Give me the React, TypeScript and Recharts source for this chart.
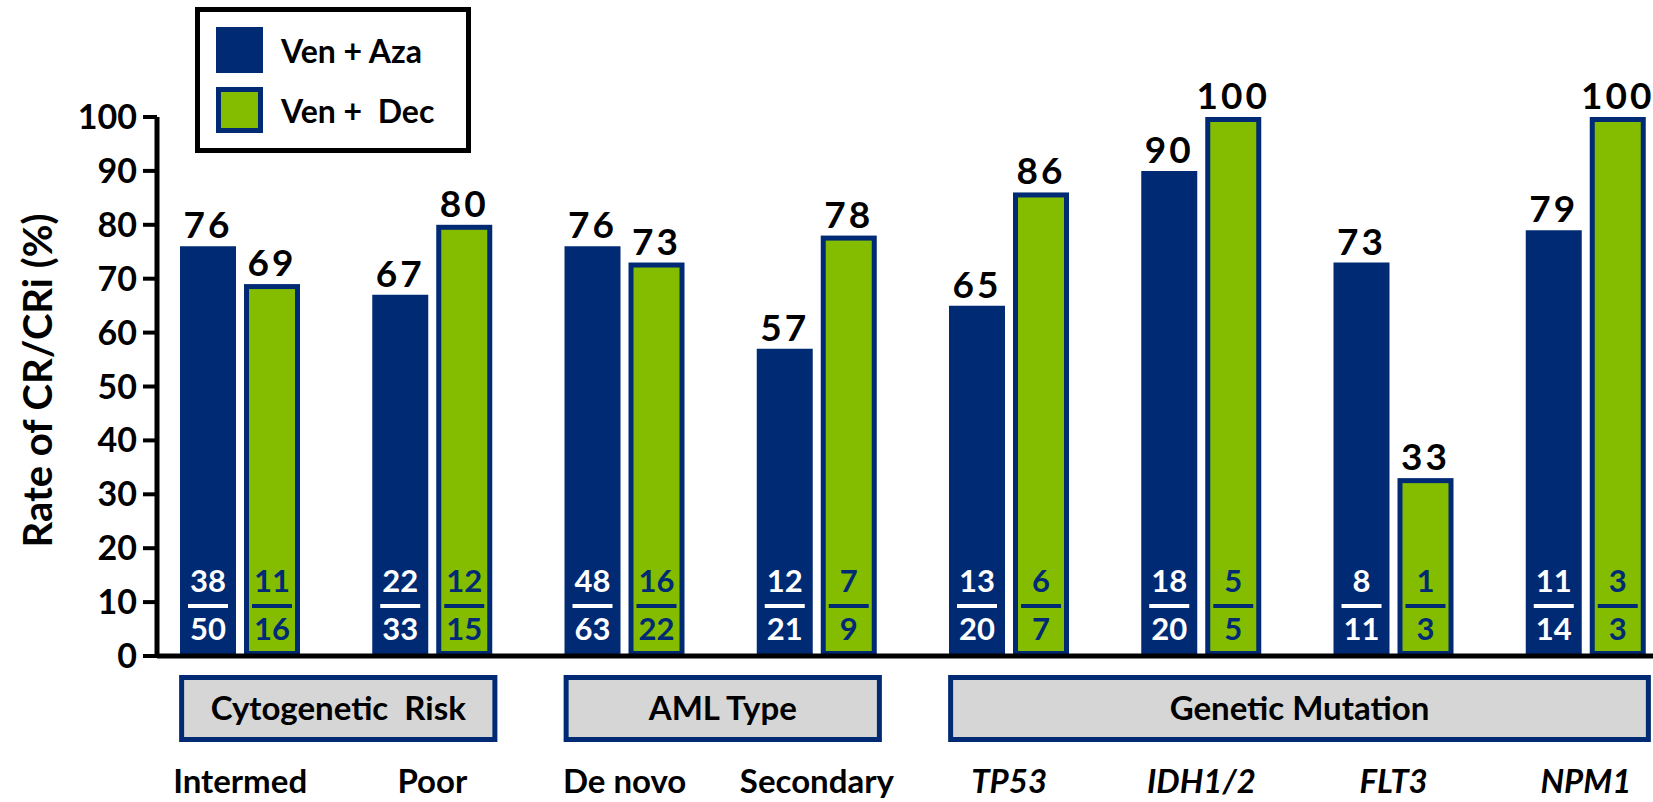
import { BarChart, Bar, XAxis, YAxis, LabelList, Legend } from "recharts";

const categories = ["Intermed", "Poor", "De novo", "Secondary", "TP53", "IDH1/2", "FLT3", "NPM1"];
const italicLabel = [false, false, false, false, true, true, true, true];

const azaRate = [76, 67, 76, 57, 65, 90, 73, 79];
const decRate = [69, 80, 73, 78, 86, 100, 33, 100];

const azaResponders = [38, 22, 48, 12, 13, 18, 8, 11];
const azaPatients = [50, 33, 63, 21, 20, 20, 11, 14];
const decResponders = [11, 12, 16, 7, 6, 5, 1, 3];
const decPatients = [16, 15, 22, 9, 7, 5, 3, 3];

const groupLabels = ["Cytogenetic  Risk", "AML Type", "Genetic Mutation"];
const groupStart = [0, 2, 4];
const groupSize = [2, 2, 4];

const yTicks = [0, 10, 20, 30, 40, 50, 60, 70, 80, 90, 100];

const seriesOrder = ["aza", "dec"];

const NAVY = "#002a74";
const GREEN = "#84bd00";
const BOX_GRAY = "#d6d6d6";
const FONT = "Lato, 'Open Sans', sans-serif";

const rows = categories.map((name, i) => ({
  name,
  aza: azaRate[i],
  dec: decRate[i],
  azaFrac: `${azaResponders[i]}/${azaPatients[i]}`,
  decFrac: `${decResponders[i]}/${decPatients[i]}`,
}));

// bordered green bar, stroke kept inside the bar's footprint
function OutlinedBar(props: any) {
  const { x, y, width, height } = props;
  if (!height || height <= 0) return null;
  return (
    <rect
      x={x + 2.5}
      y={y + 2.5}
      width={width - 5}
      height={height - 5}
      fill={GREEN}
      stroke={NAVY}
      strokeWidth={5}
    />
  );
}

// n / N written at the foot of each bar
function makeFraction(color: string) {
  return function Fraction(props: any) {
    const x = Number(props.x);
    const y = Number(props.y);
    const width = Number(props.width);
    const height = Number(props.height);
    const [num, den] = String(props.value).split("/");
    const cx = x + width / 2;
    const base = y + height;
    const txt = {
      fontFamily: FONT,
      fontWeight: 700,
      fontSize: 31,
      fill: color,
      textAnchor: "middle" as const,
    };
    return (
      <g>
        <text x={cx} y={base - 64} {...txt}>
          {num}
        </text>
        <rect x={cx - 20} y={base - 52} width={40} height={4} fill={color} />
        <text x={cx} y={base - 16} {...txt}>
          {den}
        </text>
      </g>
    );
  };
}

function CategoryTick(props: any) {
  const { x, y, payload } = props;
  const i = categories.indexOf(payload.value);
  const half = typeof payload.offset === "number" && payload.offset > 0 ? payload.offset : 96;
  const g = groupStart.indexOf(i);
  let box = null;
  if (g >= 0) {
    const lastX = x + (groupSize[g] - 1) * 2 * half;
    const left = x - 61;
    const right = lastX + 65;
    box = (
      <g>
        <rect
          x={left + 2.5}
          y={y + 21.5}
          width={right - left - 5}
          height={62}
          fill={BOX_GRAY}
          stroke={NAVY}
          strokeWidth={5}
        />
        <text
          x={(left + right) / 2}
          y={y + 64}
          textAnchor="middle"
          fontFamily={FONT}
          fontWeight={700}
          fontSize={33}
          fill="#000"
          style={{ whiteSpace: "pre" }}
        >
          {groupLabels[g]}
        </text>
      </g>
    );
  }
  return (
    <g>
      {box}
      <text
        x={x}
        y={y + 137}
        textAnchor="middle"
        fontFamily={FONT}
        fontWeight={700}
        fontStyle={italicLabel[i] ? "italic" : "normal"}
        fontSize={33}
        fill="#000"
      >
        {payload.value}
      </text>
    </g>
  );
}

function LegendBox(props: any) {
  const items = [...(props.payload || [])].sort(
    (a: any, b: any) => seriesOrder.indexOf(a.dataKey) - seriesOrder.indexOf(b.dataKey)
  );
  return (
    <div
      style={{
        boxSizing: "border-box",
        width: 276,
        height: 146,
        border: "5px solid #000",
        background: "#fff",
        paddingTop: 15,
        paddingLeft: 16,
        fontFamily: FONT,
      }}
    >
      {items.map((item: any) => {
        const outlined = item.dataKey === "dec";
        return (
          <div
            key={item.dataKey}
            style={{ display: "flex", alignItems: "center", height: 46, marginBottom: 14 }}
          >
            <span
              style={{
                boxSizing: "border-box",
                width: 47,
                height: 46,
                background: outlined ? GREEN : NAVY,
                border: outlined ? `5px solid ${NAVY}` : "none",
              }}
            />
            <span
              style={{
                marginLeft: 18,
                fontSize: 32,
                fontWeight: 700,
                color: "#000",
                whiteSpace: "pre",
              }}
            >
              {item.value}
            </span>
          </div>
        );
      })}
    </div>
  );
}

function AxisTitle(props: any) {
  const vb = props.viewBox || { x: 0, y: 117, width: 157, height: 539 };
  const tx = vb.x + 52;
  const ty = vb.y + vb.height / 2 - 6;
  return (
    <text
      x={tx}
      y={ty}
      transform={`rotate(-90, ${tx}, ${ty})`}
      textAnchor="middle"
      fontFamily={FONT}
      fontWeight={700}
      fontSize={40}
      fill="#000"
    >
      Rate of CR/CRi (%)
    </text>
  );
}

const valueLabel = {
  fill: "#000",
  fontFamily: FONT,
  fontWeight: 700,
  fontSize: 37,
  letterSpacing: 3,
};

export default function App() {
  return (
    <div
      style={{
        position: "absolute",
        left: 0,
        top: 0,
        width: 1653,
        height: 802,
        overflow: "hidden",
        background: "#fff",
      }}
    >
      <BarChart
        width={1700}
        height={802}
        data={rows}
        margin={{ top: 117, right: 18, left: 0, bottom: 0 }}
        barSize={56}
        barGap={8}
      >
        <Bar dataKey="aza" name="Ven + Aza" fill={NAVY} isAnimationActive={false}>
          <LabelList dataKey="aza" position="top" offset={8} {...valueLabel} />
          <LabelList dataKey="azaFrac" content={makeFraction("#ffffff")} />
        </Bar>
        <Bar
          dataKey="dec"
          name="Ven +  Dec"
          fill={GREEN}
          shape={OutlinedBar}
          isAnimationActive={false}
        >
          <LabelList dataKey="dec" position="top" offset={8} {...valueLabel} />
          <LabelList dataKey="decFrac" content={makeFraction(NAVY)} />
        </Bar>
        <XAxis
          dataKey="name"
          interval={0}
          height={146}
          padding={{ left: -13, right: 0 }}
          axisLine={{ stroke: "#000", strokeWidth: 5 }}
          tickLine={false}
          tickSize={0}
          tickMargin={0}
          tick={<CategoryTick />}
        />
        <YAxis
          width={157}
          domain={[0, 100]}
          ticks={yTicks}
          interval={0}
          tickSize={14}
          tickMargin={6}
          axisLine={{ stroke: "#000", strokeWidth: 5 }}
          tickLine={{ stroke: "#000", strokeWidth: 4 }}
          tick={{ fill: "#000", fontFamily: FONT, fontWeight: 700, fontSize: 34 }}
          label={<AxisTitle />}
        />
        <Legend
          layout="vertical"
          align="center"
          verticalAlign="middle"
          content={<LegendBox />}
          wrapperStyle={{ left: 195, top: 7, width: 276, height: 146 }}
        />
      </BarChart>
    </div>
  );
}
